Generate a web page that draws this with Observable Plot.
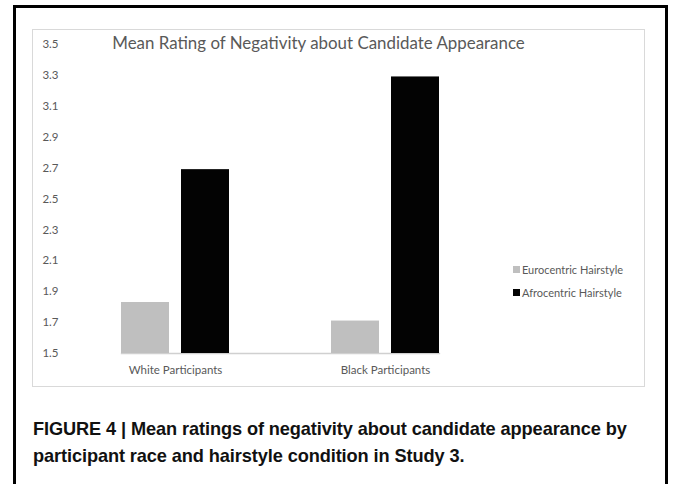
<!DOCTYPE html>
<html>
<head>
<meta charset="utf-8">
<script src="https://cdn.jsdelivr.net/npm/d3@7"></script>
<script src="https://cdn.jsdelivr.net/npm/@observablehq/plot@0.6"></script>
<style>
  html, body { margin: 0; padding: 0; background: #fff; }
  #wrap { position: relative; width: 673px; height: 484px; overflow: hidden; background: #fff; }
  #outer { position: absolute; left: 13px; top: 5px; width: 655px; height: 500px; box-sizing: border-box; border: 3px solid #000; border-bottom: none; }
  #inner { position: absolute; left: 32px; top: 29px; width: 613px; height: 358px; box-sizing: border-box; border: 1px solid #d9d9d9; }
  #chart { position: absolute; left: 0; top: 0; }
  #title { position: absolute; left: 0; width: 637px; top: 32px; text-align: center; font-family: Lato, sans-serif; font-size: 16.9px; color: #595959; white-space: nowrap; }
  #legend { position: absolute; left: 513px; top: 261px; font-family: Lato, sans-serif; font-size: 11px; color: #595959; }
  #legend .row { display: flex; align-items: center; height: 16px; margin-bottom: 7px; white-space: nowrap; }
  #legend .sw { width: 7px; height: 7px; margin-right: 2px; }
  #caption { position: absolute; left: 33px; top: 416px; font-family: "Liberation Sans", Arial, sans-serif; font-weight: bold; font-size: 18.2px; line-height: 27px; color: #111; white-space: nowrap; letter-spacing: -0.1px; }
</style>
</head>
<body>
<div id="wrap">
  <div id="outer"></div>
  <div id="inner"></div>
  <div id="chart"></div>
  <div id="title"></div>
  <div id="legend"></div>
  <div id="caption"></div>
</div>
<script>
const groups = ["White Participants", "Black Participants"];
const hairstyles = ["Eurocentric Hairstyle", "Afrocentric Hairstyle"];
const euroValues = [1.83, 1.71];
const afroValues = [2.69, 3.29];
const yTicks = [1.5, 1.7, 1.9, 2.1, 2.3, 2.5, 2.7, 2.9, 3.1, 3.3, 3.5];
const barColors = ["#bfbfbf", "#030303"];
const titleText = "Mean Rating of Negativity about Candidate Appearance";
const captionLines = ["FIGURE 4 | Mean ratings of negativity about candidate appearance by", "participant race and hairstyle condition in Study 3."];

const data = groups.flatMap((g, i) => [
  {group: g, hairstyle: hairstyles[0], value: euroValues[i]},
  {group: g, hairstyle: hairstyles[1], value: afroValues[i]}
]);

const chart = Plot.plot({
  width: 673,
  height: 390,
  marginLeft: 70,
  marginRight: 183,
  marginTop: 44,
  marginBottom: 37,
  style: {fontFamily: "Lato, sans-serif", fontSize: "11.5px", color: "#595959", background: "transparent", overflow: "visible"},
  fx: {domain: groups, paddingInner: 0.486, paddingOuter: 0.243, axis: "bottom", tickSize: 0, tickPadding: 12, label: null},
  x: {domain: hairstyles, axis: null, paddingInner: 0.2, paddingOuter: 0},
  y: {domain: [1.5, 3.5], ticks: yTicks, tickFormat: d3.format(".1f"), tickSize: 0, tickPadding: 63, label: null, grid: false},
  color: {domain: hairstyles, range: barColors},
  marks: [
    Plot.frame({anchor: "bottom", stroke: "#d0d0d0", strokeWidth: 1.3, facet: "super"}),
    Plot.barY(data, {fx: "group", x: "hairstyle", y1: 1.5, y2: "value", fill: "hairstyle"})
  ]
});
document.getElementById("chart").appendChild(chart);

document.getElementById("title").textContent = titleText;
const legend = document.getElementById("legend");
hairstyles.forEach((h, i) => {
  const row = document.createElement("div");
  row.className = "row";
  const sw = document.createElement("div");
  sw.className = "sw";
  sw.style.background = barColors[i];
  const t = document.createElement("span");
  t.textContent = h;
  row.appendChild(sw); row.appendChild(t);
  legend.appendChild(row);
});
const cap = document.getElementById("caption");
captionLines.forEach((l, i) => {
  const d = document.createElement("div");
  d.textContent = l;
  cap.appendChild(d);
});
</script>
</body>
</html>
